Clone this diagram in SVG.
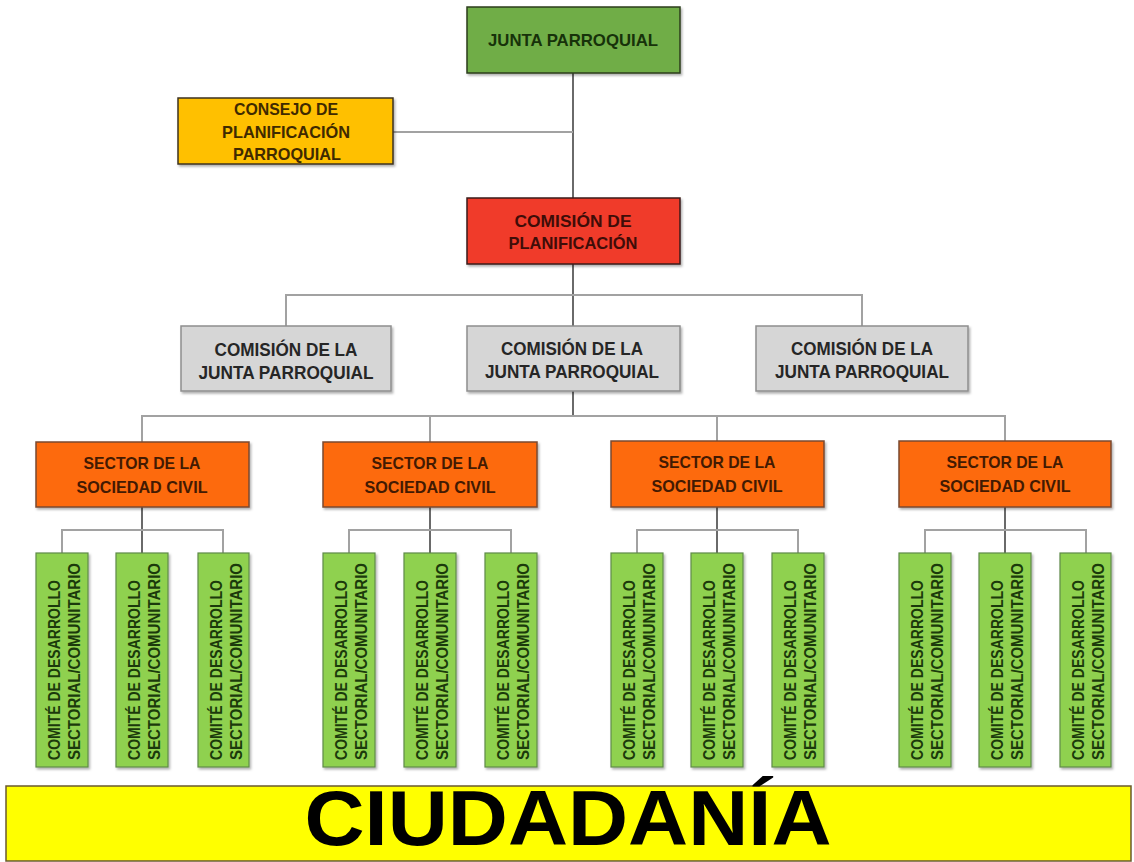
<svg xmlns="http://www.w3.org/2000/svg" width="1134" height="862" viewBox="0 0 1134 862">
<style>
  text { font-family: "Liberation Sans", Arial, sans-serif; font-weight: bold; text-anchor: middle; }
  .box { stroke-width: 1.5; }
  .junta { fill: #6fad46; stroke: #2b3d1e; }
  .consejo { fill: #ffc000; stroke: #3d3320; }
  .plan { fill: #f03b2c; stroke: #3a1e1a; }
  .gray { fill: #d6d6d6; stroke: #8e8e8e; }
  .sector { fill: #fd6a0e; stroke: #7a4a30; }
  .comite { fill: #8fd14f; stroke: #5f8a4a; stroke-width: 1.2; }
  .t-green { fill: #17320a; font-size: 17px; }
  .t-yellow { fill: #3f2a00; font-size: 17px; }
  .t-red { fill: #3f0d08; font-size: 17px; }
  .t-gray { fill: #262626; font-size: 18px; }
  .t-orange { fill: #431a02; font-size: 17px; }
  .t-comite { fill: #1b3a0b; font-size: 16px; text-anchor: start; }
  .c-dark { stroke: #6a6a6a; stroke-width: 2; fill: none; }
  .c-light { stroke: #a2a2a2; stroke-width: 2; fill: none; }
</style>
<defs>
  <filter id="sh" x="-5%" y="-5%" width="115%" height="125%">
    <feDropShadow dx="1.5" dy="2" stdDeviation="1.2" flood-color="#000" flood-opacity="0.3"/>
  </filter>
</defs>
<rect width="1134" height="862" fill="#ffffff"/>

<g id="connectors">
  <path class="c-dark" d="M573,73 V198"/>
  <path class="c-light" d="M393,132 H573"/>
  <path class="c-dark" d="M573,264 V326"/>
  <path class="c-light" d="M286,326 V295 H862 V326"/>
  <path class="c-dark" d="M573,391 V416"/>
  <path class="c-light" d="M142,442 V416 H1005 V442"/>
  <path class="c-light" d="M430,416 V442 M717,416 V442"/>
  <path class="c-dark" d="M142,507 V553 M430,507 V553 M717,507 V553 M1005,507 V553"/>
  <path class="c-light" d="M62,553 V530 H223 V553"/>
  <path class="c-light" d="M349,553 V530 H511 V553"/>
  <path class="c-light" d="M637,553 V530 H798 V553"/>
  <path class="c-light" d="M925,553 V530 H1086 V553"/>
</g>

<g id="junta-parroquial">
  <rect class="box junta" x="467" y="7" width="213" height="66" filter="url(#sh)"/>
  <text class="t-green" x="573" y="46" textLength="170" lengthAdjust="spacingAndGlyphs">JUNTA PARROQUIAL</text>
</g>

<g id="consejo-planificacion">
  <rect class="box consejo" x="178" y="98" width="215" height="66" filter="url(#sh)"/>
  <text class="t-yellow" x="286" y="115" textLength="104" lengthAdjust="spacingAndGlyphs">CONSEJO DE</text>
  <text class="t-yellow" x="286" y="138" textLength="128" lengthAdjust="spacingAndGlyphs">PLANIFICACIÓN</text>
  <text class="t-yellow" x="287" y="160" textLength="108" lengthAdjust="spacingAndGlyphs">PARROQUIAL</text>
</g>

<g id="comision-planificacion">
  <rect class="box plan" x="467" y="198" width="213" height="66" filter="url(#sh)"/>
  <text class="t-red" x="573" y="227" textLength="117" lengthAdjust="spacingAndGlyphs">COMISIÓN DE</text>
  <text class="t-red" x="573" y="249" textLength="129" lengthAdjust="spacingAndGlyphs">PLANIFICACIÓN</text>
</g>

<g id="comision-junta-1">
  <rect class="box gray" x="181" y="326" width="210" height="65" filter="url(#sh)"/>
  <text class="t-gray" x="286" y="356" textLength="143" lengthAdjust="spacingAndGlyphs">COMISIÓN DE LA</text>
  <text class="t-gray" x="286" y="379" textLength="175" lengthAdjust="spacingAndGlyphs">JUNTA PARROQUIAL</text>
</g>
<g id="comision-junta-2">
  <rect class="box gray" x="467" y="326" width="213" height="65" filter="url(#sh)"/>
  <text class="t-gray" x="572" y="355" textLength="142" lengthAdjust="spacingAndGlyphs">COMISIÓN DE LA</text>
  <text class="t-gray" x="572" y="378" textLength="174" lengthAdjust="spacingAndGlyphs">JUNTA PARROQUIAL</text>
</g>
<g id="comision-junta-3">
  <rect class="box gray" x="756" y="326" width="212" height="65" filter="url(#sh)"/>
  <text class="t-gray" x="862" y="355" textLength="142" lengthAdjust="spacingAndGlyphs">COMISIÓN DE LA</text>
  <text class="t-gray" x="862" y="378" textLength="174" lengthAdjust="spacingAndGlyphs">JUNTA PARROQUIAL</text>
</g>

<g id="sector-1">
  <rect class="box sector" x="36" y="442" width="213" height="65" filter="url(#sh)"/>
  <text class="t-orange" x="142" y="469" textLength="117" lengthAdjust="spacingAndGlyphs">SECTOR DE LA</text>
  <text class="t-orange" x="142" y="493" textLength="131" lengthAdjust="spacingAndGlyphs">SOCIEDAD CIVIL</text>
</g>
<g id="sector-2">
  <rect class="box sector" x="323" y="442" width="214" height="65" filter="url(#sh)"/>
  <text class="t-orange" x="430" y="469" textLength="117" lengthAdjust="spacingAndGlyphs">SECTOR DE LA</text>
  <text class="t-orange" x="430" y="493" textLength="131" lengthAdjust="spacingAndGlyphs">SOCIEDAD CIVIL</text>
</g>
<g id="sector-3">
  <rect class="box sector" x="611" y="441" width="213" height="66" filter="url(#sh)"/>
  <text class="t-orange" x="717" y="468" textLength="117" lengthAdjust="spacingAndGlyphs">SECTOR DE LA</text>
  <text class="t-orange" x="717" y="492" textLength="131" lengthAdjust="spacingAndGlyphs">SOCIEDAD CIVIL</text>
</g>
<g id="sector-4">
  <rect class="box sector" x="899" y="441" width="212" height="66" filter="url(#sh)"/>
  <text class="t-orange" x="1005" y="468" textLength="117" lengthAdjust="spacingAndGlyphs">SECTOR DE LA</text>
  <text class="t-orange" x="1005" y="492" textLength="131" lengthAdjust="spacingAndGlyphs">SOCIEDAD CIVIL</text>
</g>

<g id="comite-1-1"><rect class="comite" x="36" y="553" width="52" height="214" filter="url(#sh)"/>
  <text class="t-comite" transform="translate(60,760) rotate(-90)" textLength="180" lengthAdjust="spacingAndGlyphs">COMITÉ DE DESARROLLO</text>
  <text class="t-comite" transform="translate(80,760) rotate(-90)" textLength="197" lengthAdjust="spacingAndGlyphs">SECTORIAL/COMUNITARIO</text></g>
<g id="comite-1-2"><rect class="comite" x="116" y="553" width="52" height="214" filter="url(#sh)"/>
  <text class="t-comite" transform="translate(140,760) rotate(-90)" textLength="180" lengthAdjust="spacingAndGlyphs">COMITÉ DE DESARROLLO</text>
  <text class="t-comite" transform="translate(160,760) rotate(-90)" textLength="197" lengthAdjust="spacingAndGlyphs">SECTORIAL/COMUNITARIO</text></g>
<g id="comite-1-3"><rect class="comite" x="198" y="553" width="51" height="214" filter="url(#sh)"/>
  <text class="t-comite" transform="translate(222,760) rotate(-90)" textLength="180" lengthAdjust="spacingAndGlyphs">COMITÉ DE DESARROLLO</text>
  <text class="t-comite" transform="translate(242,760) rotate(-90)" textLength="197" lengthAdjust="spacingAndGlyphs">SECTORIAL/COMUNITARIO</text></g>

<g id="comite-2-1"><rect class="comite" x="323" y="553" width="52" height="214" filter="url(#sh)"/>
  <text class="t-comite" transform="translate(347,760) rotate(-90)" textLength="180" lengthAdjust="spacingAndGlyphs">COMITÉ DE DESARROLLO</text>
  <text class="t-comite" transform="translate(367,760) rotate(-90)" textLength="197" lengthAdjust="spacingAndGlyphs">SECTORIAL/COMUNITARIO</text></g>
<g id="comite-2-2"><rect class="comite" x="404" y="553" width="52" height="214" filter="url(#sh)"/>
  <text class="t-comite" transform="translate(428,760) rotate(-90)" textLength="180" lengthAdjust="spacingAndGlyphs">COMITÉ DE DESARROLLO</text>
  <text class="t-comite" transform="translate(448,760) rotate(-90)" textLength="197" lengthAdjust="spacingAndGlyphs">SECTORIAL/COMUNITARIO</text></g>
<g id="comite-2-3"><rect class="comite" x="485" y="553" width="52" height="214" filter="url(#sh)"/>
  <text class="t-comite" transform="translate(509,760) rotate(-90)" textLength="180" lengthAdjust="spacingAndGlyphs">COMITÉ DE DESARROLLO</text>
  <text class="t-comite" transform="translate(529,760) rotate(-90)" textLength="197" lengthAdjust="spacingAndGlyphs">SECTORIAL/COMUNITARIO</text></g>

<g id="comite-3-1"><rect class="comite" x="611" y="553" width="52" height="214" filter="url(#sh)"/>
  <text class="t-comite" transform="translate(635,760) rotate(-90)" textLength="180" lengthAdjust="spacingAndGlyphs">COMITÉ DE DESARROLLO</text>
  <text class="t-comite" transform="translate(655,760) rotate(-90)" textLength="197" lengthAdjust="spacingAndGlyphs">SECTORIAL/COMUNITARIO</text></g>
<g id="comite-3-2"><rect class="comite" x="691" y="553" width="52" height="214" filter="url(#sh)"/>
  <text class="t-comite" transform="translate(715,760) rotate(-90)" textLength="180" lengthAdjust="spacingAndGlyphs">COMITÉ DE DESARROLLO</text>
  <text class="t-comite" transform="translate(735,760) rotate(-90)" textLength="197" lengthAdjust="spacingAndGlyphs">SECTORIAL/COMUNITARIO</text></g>
<g id="comite-3-3"><rect class="comite" x="772" y="553" width="52" height="214" filter="url(#sh)"/>
  <text class="t-comite" transform="translate(796,760) rotate(-90)" textLength="180" lengthAdjust="spacingAndGlyphs">COMITÉ DE DESARROLLO</text>
  <text class="t-comite" transform="translate(816,760) rotate(-90)" textLength="197" lengthAdjust="spacingAndGlyphs">SECTORIAL/COMUNITARIO</text></g>

<g id="comite-4-1"><rect class="comite" x="899" y="553" width="52" height="214" filter="url(#sh)"/>
  <text class="t-comite" transform="translate(923,760) rotate(-90)" textLength="180" lengthAdjust="spacingAndGlyphs">COMITÉ DE DESARROLLO</text>
  <text class="t-comite" transform="translate(943,760) rotate(-90)" textLength="197" lengthAdjust="spacingAndGlyphs">SECTORIAL/COMUNITARIO</text></g>
<g id="comite-4-2"><rect class="comite" x="979" y="553" width="52" height="214" filter="url(#sh)"/>
  <text class="t-comite" transform="translate(1003,760) rotate(-90)" textLength="180" lengthAdjust="spacingAndGlyphs">COMITÉ DE DESARROLLO</text>
  <text class="t-comite" transform="translate(1023,760) rotate(-90)" textLength="197" lengthAdjust="spacingAndGlyphs">SECTORIAL/COMUNITARIO</text></g>
<g id="comite-4-3"><rect class="comite" x="1060" y="553" width="51" height="214" filter="url(#sh)"/>
  <text class="t-comite" transform="translate(1084,760) rotate(-90)" textLength="180" lengthAdjust="spacingAndGlyphs">COMITÉ DE DESARROLLO</text>
  <text class="t-comite" transform="translate(1104,760) rotate(-90)" textLength="197" lengthAdjust="spacingAndGlyphs">SECTORIAL/COMUNITARIO</text></g>

<g id="ciudadania">
  <rect x="6" y="786" width="1125" height="75" fill="#ffff00" stroke="#6b5a2e" stroke-width="1.5"/>
  <text x="568" y="845" style="font-size:78px; fill:#000" textLength="527" lengthAdjust="spacingAndGlyphs">CIUDADANÍA</text>
</g>
</svg>
